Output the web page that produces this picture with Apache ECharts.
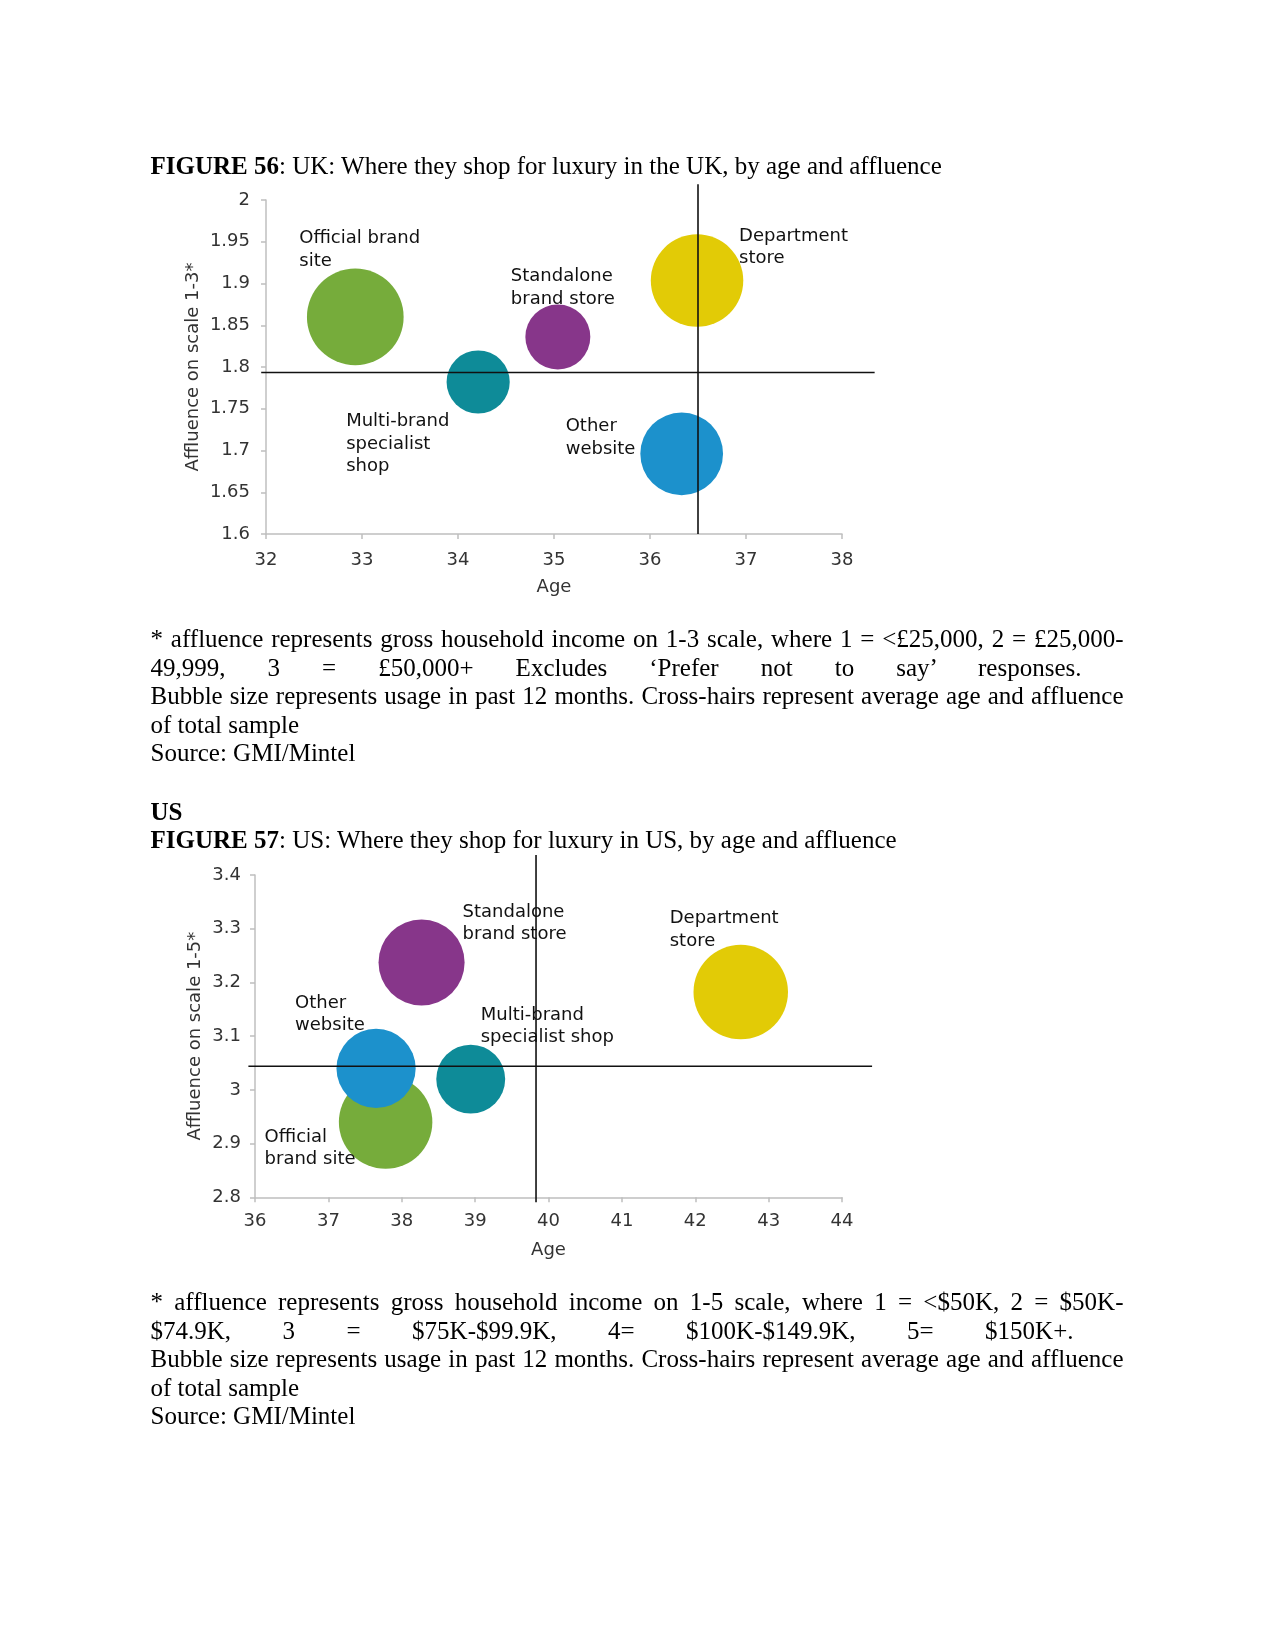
<!DOCTYPE html>
<html>
<head>
<meta charset="utf-8">
<script src="https://cdn.jsdelivr.net/npm/echarts@6/dist/echarts.min.js"></script>
<style>
html,body{margin:0;padding:0;background:#fff;}
#page{position:relative;width:1275px;height:1651px;overflow:hidden;}
#chart{position:absolute;left:0;top:0;width:1275px;height:1651px;}
.t{position:absolute;left:150.5px;font-family:"Liberation Serif","Times New Roman",serif;font-size:25px;line-height:28.75px;height:28.75px;color:#000;white-space:nowrap;}
.j{text-align:justify;text-align-last:justify;white-space:normal;overflow:hidden;}
</style>
</head>
<body>
<div id="page">
<div id="chart"></div>
<div class="t" style="top:151.5px"><b>FIGURE 56</b>: UK: Where they shop for luxury in the UK, by age and affluence</div>
<div class="t j" style="top:625px;width:973px">* affluence represents gross household income on 1-3 scale, where 1 = &lt;£25,000, 2 = £25,000-</div>
<div class="t j" style="top:653.5px;width:931px">49,999, 3 = £50,000+ Excludes ‘Prefer not to say’ responses.</div>
<div class="t j" style="top:682px;width:973px">Bubble size represents usage in past 12 months. Cross-hairs represent average age and affluence</div>
<div class="t" style="top:710.5px">of total sample</div>
<div class="t" style="top:739px">Source: GMI/Mintel</div>
<div class="t" style="top:797.5px"><b>US</b></div>
<div class="t" style="top:825.5px"><b>FIGURE 57</b>: US: Where they shop for luxury in US, by age and affluence</div>
<div class="t j" style="top:1288px;width:973px">* affluence represents gross household income on 1-5 scale, where 1 = &lt;$50K, 2 = $50K-</div>
<div class="t j" style="top:1316.5px;width:923px">$74.9K, 3 = $75K-$99.9K, 4= $100K-$149.9K, 5= $150K+.</div>
<div class="t j" style="top:1345px;width:973px">Bubble size represents usage in past 12 months. Cross-hairs represent average age and affluence</div>
<div class="t" style="top:1373.5px">of total sample</div>
<div class="t" style="top:1402px">Source: GMI/Mintel</div>
</div>
<script>
// ---------- DATA ----------
// UK (Figure 56)
const ukCategories = ['Official brand site', 'Multi-brand specialist shop', 'Standalone brand store', 'Department store', 'Other website'];
const ukLabels = ['Official brand\nsite', 'Multi-brand\nspecialist\nshop', 'Standalone\nbrand store', 'Department\nstore', 'Other\nwebsite'];
const ukAge = [32.93, 34.21, 35.04, 36.49, 36.33];
const ukAffluence = [1.860, 1.782, 1.836, 1.9035, 1.696];
const ukUsage = [41, 17.5, 18.5, 37.5, 30];
const ukAvgAge = 36.5;
const ukAvgAffluence = 1.7934;
const ukAgeTicks = [32, 33, 34, 35, 36, 37, 38];
const ukAffluenceTicks = [1.6, 1.65, 1.7, 1.75, 1.8, 1.85, 1.9, 1.95, 2];

// US (Figure 57)
const usCategories = ['Official brand site', 'Other website', 'Standalone brand store', 'Multi-brand specialist shop', 'Department store'];
const usLabels = ['Official\nbrand site', 'Other\nwebsite', 'Standalone\nbrand store', 'Multi-brand\nspecialist shop', 'Department\nstore'];
const usAge = [37.78, 37.65, 38.27, 38.94, 42.62];
const usAffluence = [2.940, 3.040, 3.237, 3.020, 3.182];
const usUsage = [46, 33, 39, 25, 47];
const usAvgAge = 39.83;
const usAvgAffluence = 3.044;
const usAgeTicks = [36, 37, 38, 39, 40, 41, 42, 43, 44];
const usAffluenceTicks = [2.8, 2.9, 3.0, 3.1, 3.2, 3.3, 3.4];

// ---------- STYLE ----------
const colorOf = {
  'Official brand site': '#76AC3B',
  'Multi-brand specialist shop': '#0E8B98',
  'Standalone brand store': '#87368A',
  'Department store': '#E2CB06',
  'Other website': '#1C91CC'
};
const ukLabelOffset = {
  'Official brand site': [-56, -67],
  'Multi-brand specialist shop': [-132, 62],
  'Standalone brand store': [-47, -49],
  'Department store': [42, -33],
  'Other website': [-116, -16]
};
const usLabelOffset = {
  'Official brand site': [-121, 26],
  'Other website': [-81, -54],
  'Standalone brand store': [41, -39],
  'Multi-brand specialist shop': [10, -53],
  'Department store': [-71, -62.5]
};
const FONT = '"DejaVu Sans", Verdana, sans-serif';
const AXIS_GRAY = '#BFBFBF';
const TEXT_GRAY = '#333333';

function bubbleData(cats, labels, xs, ys, sizes, offsets) {
  return cats.map((c, i) => ({
    name: c,
    value: [xs[i], ys[i], sizes[i]],
    itemStyle: { color: colorOf[c], opacity: 1 },
    label: {
      show: true,
      position: 'inside',
      align: 'left',
      verticalAlign: 'middle',
      offset: offsets[c],
      formatter: labels[i],
      fontFamily: FONT,
      fontSize: 18,
      lineHeight: 22.5,
      color: '#111111'
    }
  }));
}

function xAxisCfg(grid, ticks, labelMargin, nameGap) {
  return {
    type: 'value', gridIndex: grid,
    min: ticks[0], max: ticks[ticks.length - 1], interval: ticks[1] - ticks[0],
    name: 'Age', nameLocation: 'middle', nameGap: nameGap,
    nameTextStyle: { fontFamily: FONT, fontSize: 18, color: TEXT_GRAY },
    axisLine: { show: true, lineStyle: { color: AXIS_GRAY, width: 1.5 } },
    axisTick: { show: true, inside: false, length: 5, lineStyle: { color: AXIS_GRAY, width: 1.5 } },
    axisLabel: { margin: labelMargin, fontFamily: FONT, fontSize: 18, color: TEXT_GRAY },
    splitLine: { show: false }
  };
}
function yAxisCfg(grid, ticks, name, nameGap, labelMargin) {
  const step = Math.round((ticks[1] - ticks[0]) * 1000) / 1000;
  return {
    type: 'value', gridIndex: grid,
    min: ticks[0], max: ticks[ticks.length - 1], interval: step,
    name: name, nameLocation: 'middle', nameGap: nameGap, nameRotate: 90,
    nameTextStyle: { fontFamily: FONT, fontSize: 18, color: TEXT_GRAY },
    axisLine: { show: true, lineStyle: { color: AXIS_GRAY, width: 1.5 } },
    axisTick: { show: true, inside: false, length: 5, lineStyle: { color: AXIS_GRAY, width: 1.5 } },
    axisLabel: { margin: labelMargin, fontFamily: FONT, fontSize: 18, color: TEXT_GRAY,
      formatter: v => String(Math.round(v * 100) / 100) },
    splitLine: { show: false }
  };
}

function sizeFn(maxD, sizes) {
  const m = Math.max.apply(null, sizes);
  return val => maxD * Math.sqrt(val[2] / m);
}

// Cross-hair segments at the sample averages; they overshoot the axes a little, as in the original
function crossHair(xi, yi, avgX, avgY, xTicks, yTicks, xOver, yOverTop, yOverBottom) {
  const xMin = xTicks[0], xMax = xTicks[xTicks.length - 1];
  const yMin = yTicks[0], yMax = yTicks[yTicks.length - 1];
  return {
    type: 'custom', xAxisIndex: xi, yAxisIndex: yi, z: 10, silent: true, clip: false,
    encode: { x: [0, 2], y: [1, 3] },
    data: [
      [avgX, yMin - yOverBottom, avgX, yMax + yOverTop],
      [xMin - xOver[0], avgY, xMax + xOver[1], avgY]
    ],
    renderItem: function (params, api) {
      const p1 = api.coord([api.value(0), api.value(1)]);
      const p2 = api.coord([api.value(2), api.value(3)]);
      return {
        type: 'line',
        shape: { x1: p1[0], y1: p1[1], x2: p2[0], y2: p2[1] },
        style: { stroke: '#111111', lineWidth: 1.6 }
      };
    }
  };
}

const chart = echarts.init(document.getElementById('chart'), null, { renderer: 'canvas' });
chart.setOption({
  animation: false,
  backgroundColor: '#ffffff',
  grid: [
    { left: 266, top: 200, width: 576, height: 334 },
    { left: 255, top: 875, width: 587, height: 322.3 }
  ],
  xAxis: [xAxisCfg(0, ukAgeTicks, 17, 44), xAxisCfg(1, usAgeTicks, 15, 44)],
  yAxis: [
    yAxisCfg(0, ukAffluenceTicks, 'Affluence on scale 1-3*', 64, 16),
    yAxisCfg(1, usAffluenceTicks, 'Affluence on scale 1-5*', 51, 14)
  ],
  series: [
    {
      type: 'scatter', xAxisIndex: 0, yAxisIndex: 0, z: 2,
      symbolSize: sizeFn(96.7, ukUsage),
      data: bubbleData(ukCategories, ukLabels, ukAge, ukAffluence, ukUsage, ukLabelOffset)
    },
    {
      type: 'scatter', xAxisIndex: 1, yAxisIndex: 1, z: 2,
      symbolSize: sizeFn(94.5, usUsage),
      data: bubbleData(usCategories, usLabels, usAge, usAffluence, usUsage, usLabelOffset)
    },
    crossHair(0, 0, ukAvgAge, ukAvgAffluence, ukAgeTicks, ukAffluenceTicks, [0.05, 0.34], 0.019, 0),
    crossHair(1, 1, usAvgAge, usAvgAffluence, usAgeTicks, usAffluenceTicks, [0.09, 0.41], 0.037, 0.009)
  ]
});
</script>
</body>
</html>
